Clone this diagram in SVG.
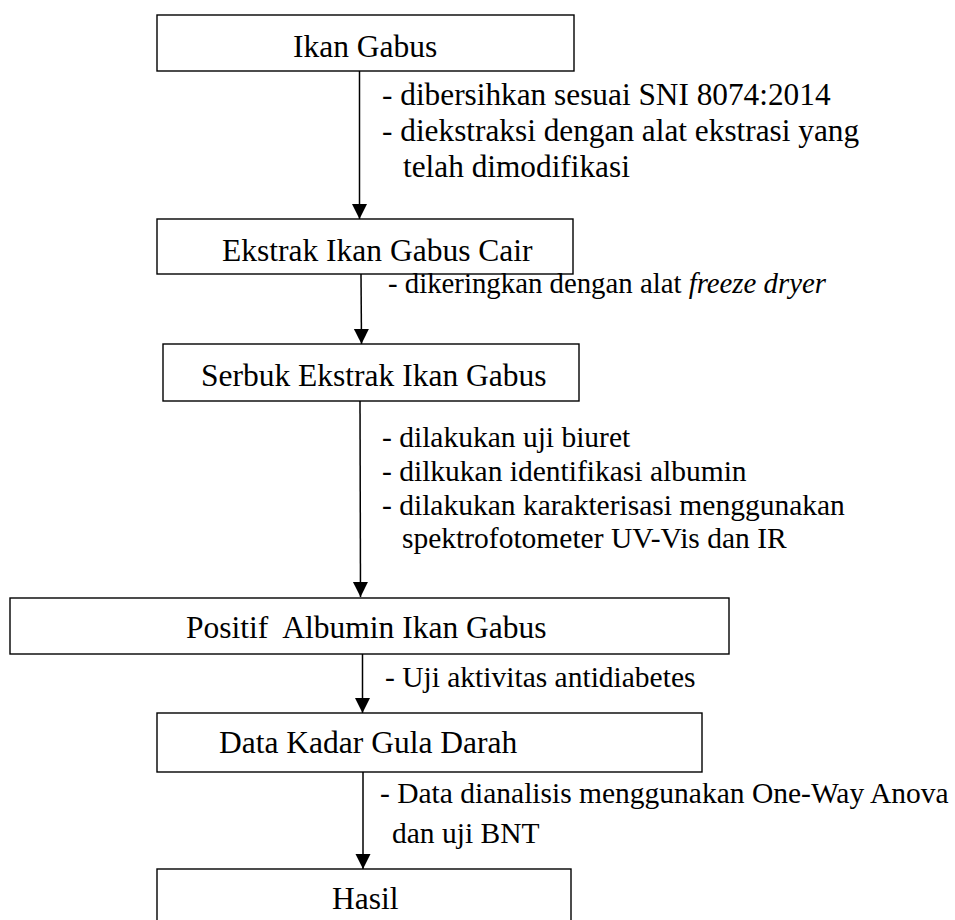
<svg xmlns="http://www.w3.org/2000/svg" width="955" height="920" viewBox="0 0 955 920">
<style>
.box{fill:#fff;stroke:#000;stroke-width:1.4}
.lbl{font-family:"Liberation Serif","Times New Roman",serif;font-size:31.5px;fill:#000}
.ann{font-family:"Liberation Serif","Times New Roman",serif;font-size:29.5px;fill:#000}
.ann1{font-size:31.3px}
.ann2{font-size:28.8px}
.conn{stroke:#000;stroke-width:1.5;fill:none;marker-end:url(#ah)}
</style>
<defs>
<marker id="ah" markerUnits="userSpaceOnUse" markerWidth="16" markerHeight="16" refX="15" refY="7.5" orient="auto">
<path d="M0,0 L15,7.5 L0,15 Z" fill="#000"/>
</marker>
</defs>
<rect width="955" height="920" fill="#fff"/>
<g id="connectors">
<line class="conn" x1="359.5" y1="71" x2="359.5" y2="219"/>
<line class="conn" x1="361" y1="274" x2="361.5" y2="344"/>
<line class="conn" x1="360" y1="401" x2="360.5" y2="597"/>
<line class="conn" x1="362.5" y1="654" x2="362.5" y2="713"/>
<line class="conn" x1="363" y1="772" x2="363" y2="869"/>
</g>
<g id="n1">
<rect class="box" x="157" y="15" width="417" height="56"/>
<text class="lbl" x="293" y="57">Ikan Gabus</text>
</g>
<g id="n2">
<rect class="box" x="157" y="219" width="416" height="55"/>
<text class="lbl" x="222" y="261">Ekstrak Ikan Gabus Cair</text>
</g>
<g id="n3">
<rect class="box" x="163" y="344" width="416" height="57"/>
<text class="lbl" x="201" y="386">Serbuk Ekstrak Ikan Gabus</text>
</g>
<g id="n4">
<rect class="box" x="10" y="598" width="719" height="56"/>
<text class="lbl" x="186" y="638" xml:space="preserve">Positif  Albumin Ikan Gabus</text>
</g>
<g id="n5">
<rect class="box" x="157" y="713" width="545" height="59"/>
<text class="lbl" x="219" y="753">Data Kadar Gula Darah</text>
</g>
<g id="n6">
<rect class="box" x="157" y="869" width="414" height="60"/>
<text class="lbl" x="332" y="909">Hasil</text>
</g>
<g id="labels">
<text class="ann ann1" x="382" y="105">- dibersihkan sesuai SNI 8074:2014</text>
<text class="ann ann1" x="382" y="141">- diekstraksi dengan alat ekstrasi yang</text>
<text class="ann ann1" x="403" y="177">telah dimodifikasi</text>
<text class="ann ann2" x="388" y="293">- dikeringkan dengan alat <tspan font-style="italic">freeze dryer</tspan></text>
<text class="ann" x="382" y="447">- dilakukan uji biuret</text>
<text class="ann" x="382" y="481">- dilkukan identifikasi albumin</text>
<text class="ann" x="382" y="515">- dilakukan karakterisasi menggunakan</text>
<text class="ann" x="402" y="548">spektrofotometer UV-Vis dan IR</text>
<text class="ann" x="385" y="687">- Uji aktivitas antidiabetes</text>
<text class="ann" x="380" y="803">- Data dianalisis menggunakan One-Way Anova</text>
<text class="ann" x="392" y="843">dan uji BNT</text>
</g>
</svg>
